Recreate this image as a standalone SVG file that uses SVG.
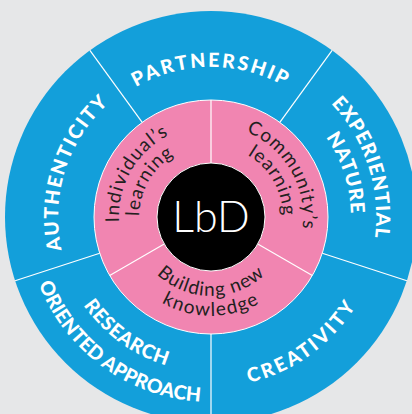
<svg xmlns="http://www.w3.org/2000/svg" width="412" height="414" viewBox="0 0 412 414">
<style>
.bg{fill:#e6e7e8}
.ring{fill:#139fda}
.pink{fill:#f185b1;stroke:#fff;stroke-width:1}
.core{fill:#000;stroke:#fff;stroke-width:1}
.div{stroke:#fff;stroke-width:1.2;fill:none}
.outer{font-family:Lato,"Open Sans","DejaVu Sans",sans-serif;font-weight:900;font-size:19.5px;fill:#fff}
.inner{font-family:Lato,"Open Sans","DejaVu Sans",sans-serif;font-weight:400;font-size:19px;fill:#231f20}
.lbd{font-family:Lato,"Open Sans",sans-serif;font-weight:300;font-size:43px;fill:#fff}
</style>
<defs>
<path id="pPart" d="M66.1,178.2 A150,150 0 0 1 355.9,178.2"/>
<path id="pAuth" d="M127.7,345.3 A153,153 0 0 1 219.0,64.2"/>
<path id="pExp" d="M202.4,52.2 A165,165 0 0 1 300.9,355.4"/>
<path id="pNat" d="M203.7,77.2 A140,140 0 0 1 287.2,334.4"/>
<path id="pCre" d="M104.0,349.1 A170,170 0 0 0 369.7,156.1"/>
<path id="pRes" d="M66.3,161.4 A155,155 0 0 0 308.5,337.5"/>
<path id="pOri" d="M38.3,150.7 A185,185 0 0 0 327.4,360.8"/>
<path id="pInd" d="M145.9,282.1 A92,92 0 0 1 234.8,128.1"/>
<path id="pLearnL" d="M160.1,267.9 A72,72 0 0 1 229.6,147.5"/>
<path id="pCom" d="M187.2,128.1 A92,92 0 0 1 276.1,282.1"/>
<path id="pLearnR" d="M192.4,147.5 A72,72 0 0 1 261.9,267.9"/>
<path id="pBuild" d="M134.7,237.4 A79,79 0 0 0 287.3,237.4"/>
<path id="pKnow" d="M115.4,242.6 A99,99 0 0 0 306.6,242.6"/>
</defs>
<rect class="bg" x="0" y="0" width="412" height="414"/>
<g id="outer-ring">
<circle class="ring" cx="211" cy="217" r="206"/>
</g>
<g id="partnership"><text class="outer" text-anchor="middle" letter-spacing="2.3"><textPath href="#pPart" startOffset="50%">PARTNERSHIP</textPath></text></g>
<g id="experiential-nature"><text class="outer" text-anchor="middle" letter-spacing="1.0"><textPath href="#pExp" startOffset="50%">EXPERIENTIAL</textPath></text><text class="outer" text-anchor="middle" letter-spacing="0.8"><textPath href="#pNat" startOffset="50%">NATURE</textPath></text></g>
<g id="creativity"><text class="outer" text-anchor="middle" letter-spacing="2.6"><textPath href="#pCre" startOffset="50%">CREATIVITY</textPath></text></g>
<g id="research"><text class="outer" text-anchor="middle" letter-spacing="0.6"><textPath href="#pRes" startOffset="50%">RESEARCH</textPath></text><text class="outer" text-anchor="middle" letter-spacing="0.1"><textPath href="#pOri" startOffset="50%">ORIENTED APPROACH</textPath></text></g>
<g id="authenticity"><text class="outer" text-anchor="middle" letter-spacing="1.7"><textPath href="#pAuth" startOffset="50%">AUTHENTICITY</textPath></text></g>
<g id="inner-ring">
<circle class="pink" cx="211" cy="217" r="117"/>
</g>
<g id="individual"><text class="inner" text-anchor="middle" letter-spacing="1.2"><textPath href="#pInd" startOffset="50%">Individual’s</textPath></text><text class="inner" text-anchor="middle" letter-spacing="0.9"><textPath href="#pLearnL" startOffset="50%">learning</textPath></text></g>
<g id="community"><text class="inner" text-anchor="middle" letter-spacing="1.1"><textPath href="#pCom" startOffset="50%">Community’s</textPath></text><text class="inner" text-anchor="middle" letter-spacing="0.9"><textPath href="#pLearnR" startOffset="50%">learning</textPath></text></g>
<g id="building"><text class="inner" text-anchor="middle" letter-spacing="1.0"><textPath href="#pBuild" startOffset="50%">Building new</textPath></text><text class="inner" text-anchor="middle" letter-spacing="1.4"><textPath href="#pKnow" startOffset="50%">knowledge</textPath></text></g>
<g id="connectors">
<line class="div" x1="279.8" y1="122.3" x2="332.1" y2="50.3"/>
<line class="div" x1="322.3" y1="253.2" x2="406.9" y2="280.7"/>
<line class="div" x1="211" y1="334" x2="211" y2="423"/>
<line class="div" x1="99.7" y1="253.2" x2="15.1" y2="280.7"/>
<line class="div" x1="142.2" y1="122.3" x2="89.9" y2="50.3"/>
<line class="div" x1="211" y1="163" x2="211" y2="100"/>
<line class="div" x1="257.8" y1="244" x2="312.3" y2="275.5"/>
<line class="div" x1="164.2" y1="244" x2="109.7" y2="275.5"/>
</g>
<g id="lbd">
<circle class="core" cx="211" cy="217" r="54"/>
<text class="lbd" x="211" y="232" text-anchor="middle">LbD</text>
</g>
</svg>
